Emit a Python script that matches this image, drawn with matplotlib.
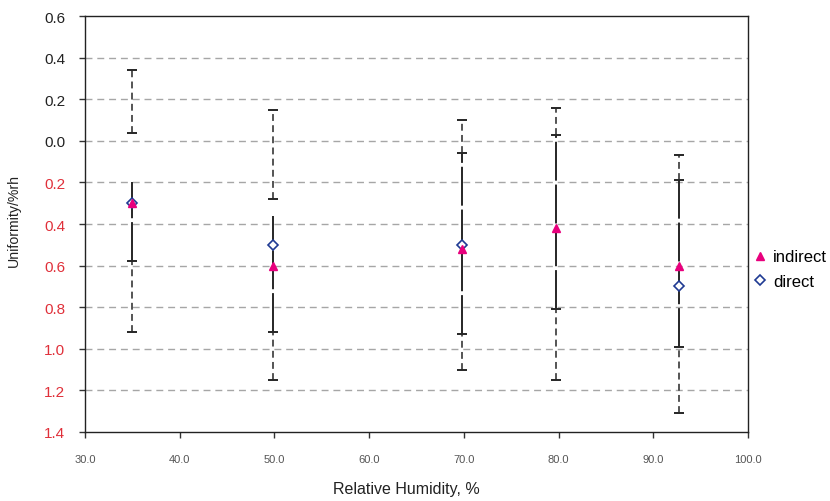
import matplotlib
matplotlib.use("Agg")
import matplotlib.pyplot as plt
from matplotlib.lines import Line2D
import numpy as np

plt.rcParams['font.family'] = ['Liberation Sans', 'DejaVu Sans']

# Data
rh = [35.0, 49.8, 69.8, 79.7, 92.7]
indirect = [-0.30, -0.60, -0.52, -0.42, -0.60]
direct_rh = [35.0, 49.8, 69.8, 92.7]
direct = [-0.30, -0.50, -0.50, -0.70]

# error-bar segments
outer_hi = [0.34, 0.15, 0.10, 0.16, -0.07]   # top of upper dashed segment
upper_lo = [0.04, -0.28, -0.06, 0.03, -0.19]  # bottom of upper dashed segment
solid_hi = [-0.20, -0.36, -0.06, 0.03, -0.19] # top of solid segment
solid_lo = [-0.58, -0.92, -0.93, -0.81, -0.99] # bottom of solid segment
outer_lo = [-0.92, -1.15, -1.10, -1.15, -1.31] # bottom of lower dashed segment

yticks = [0.6, 0.4, 0.2, 0.0, -0.2, -0.4, -0.6, -0.8, -1.0, -1.2, -1.4]
xticks = [30, 40, 50, 60, 70, 80, 90, 100]

fig = plt.figure(figsize=(8.30, 5.02), dpi=100)
ax = fig.add_axes([0.1024, 0.1375, 0.7988, 0.8285])

ax.set_xlim(30, 100)
ax.set_ylim(-1.4, 0.6)

# grid
for v in yticks[1:-1]:
    ax.axhline(v, color='#a6a6a6', lw=1.0, linestyle=(0, (5, 3.5)), zorder=0)

bar_col = '#262626'
lw = 1.1
dash = (0, (4.5, 2.8))
longdash = (0, (20, 2))

ax.vlines(rh, upper_lo, outer_hi, colors=bar_col, linestyles=[dash], lw=lw, zorder=2)
ax.vlines(rh, solid_lo, solid_hi, colors=bar_col, linestyles=[longdash], lw=1.4, zorder=2)
ax.vlines(rh, outer_lo, solid_lo, colors=bar_col, linestyles=[dash], lw=lw, zorder=2)
for ys in (outer_hi, upper_lo, solid_lo, outer_lo):
    ax.plot(rh, ys, ls='none', marker='_', ms=6.5, mew=1.4, color=bar_col, zorder=3)

ax.plot(direct_rh, direct, ls='none', marker='D', ms=5.4, mfc='white', mec='#1f3a93', mew=1.2, zorder=4)
ax.plot(rh, indirect, ls='none', marker='^', ms=6, mfc='#e8007d', mec='#e8007d', zorder=5)

ax.set_yticks(yticks)
ax.set_yticklabels([f"{abs(v):.1f}" for v in yticks], fontsize=11)
for lab, v in zip(ax.get_yticklabels(), yticks):
    lab.set_color('#e0303a' if v < -1e-9 else '#222222')
ax.set_xticks(xticks)
ax.set_xticklabels([f"{v:.1f}" for v in xticks], fontsize=8, color='#555555')
ax.tick_params(axis='y', direction='out', length=4.3, width=1, color='#333333', pad=10)
ax.tick_params(axis='x', direction='out', length=4, width=1, color='#333333', pad=12)
ax.tick_params(top=False, right=False)

for s in ax.spines.values():
    s.set_color('#222222')
    s.set_linewidth(1.0)

ax.set_xlabel('Relative Humidity, %', fontsize=11.5, color='#222222')
ax.xaxis.set_label_coords(0.484, -0.118)
ax.set_ylabel('Uniformity/%rh', fontsize=10.2, color='#222222')
ax.yaxis.set_label_coords(-0.096, 0.512)

handles = [
    Line2D([], [], ls='none', marker='^', ms=6, mfc='#e8007d', mec='#e8007d'),
    Line2D([], [], ls='none', marker='D', ms=5.4, mfc='white', mec='#1f3a93', mew=1.2),
]
fig.legend(handles, ['indirect', 'direct'], loc='center left', bbox_to_anchor=(0.9096, 0.462),
           frameon=False, fontsize=12, handlelength=0.6, handletextpad=0.5, labelspacing=0.55,
           borderaxespad=0, borderpad=0)

fig.savefig('out.png', dpi=100)
